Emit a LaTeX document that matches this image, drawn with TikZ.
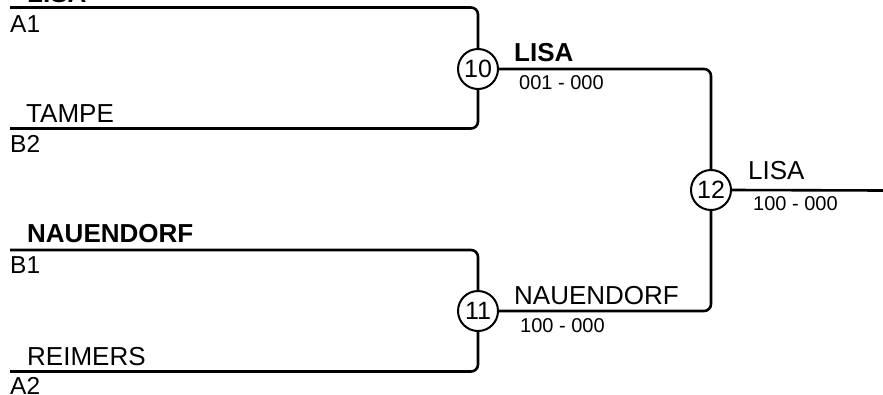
\documentclass[tikz,border=0pt]{standalone}
\usepackage{fontspec}
\setmainfont{Liberation Sans}
\begin{document}
\begin{tikzpicture}[x=1pt,y=-1pt,
  line/.style={line width=2.6pt,rounded corners=7pt},
  game/.style={circle,draw,line width=2pt,minimum size=40pt,inner sep=0pt,font=\fontsize{25}{25}\selectfont},
  player/.style={anchor=base west,inner sep=0pt,font=\fontsize{26}{26}\selectfont},
  winner/.style={player,font=\fontsize{26}{26}\selectfont\bfseries},
  seed/.style={anchor=base west,inner sep=0pt,font=\fontsize{24.5}{24.5}\selectfont},
  score/.style={anchor=base west,inner sep=0pt,font=\fontsize{20}{20}\selectfont}]
\useasboundingbox (0,0) rectangle (883,394);
% games
\node[game] (c10) at (478,69) {10};
\node[game] (c11) at (478,311) {11};
\node[game] (c12) at (711,190) {12};
% free ends
\coordinate (s1) at (10,7.5);
\coordinate (s2) at (10,128.5);
\coordinate (s3) at (10,250);
\coordinate (s4) at (10,371.5);
\coordinate (out) at (884,190.5);
% connectors
\draw[line] (s1) -| (c10);
\draw[line] (s2) -| (c10);
\draw[line] (s3) -| (c11);
\draw[line] (s4) -| (c11);
\draw[line] (c10) -| (c12);
\draw[line] (c11) -| (c12);
\draw[line] (c12.east) -- (out);
% labels
\node[winner] (n1) at (27,2) {LISA};
\node[seed] (a1) at (10,32) {A1};
\node[player] (n2) at (26,122) {TAMPE};
\node[seed] (b2) at (10,152.5) {B2};
\node[winner] (n3) at (27,242) {NAUENDORF};
\node[seed] (b1) at (10,273) {B1};
\node[player] (n4) at (27,365) {REIMERS};
\node[seed] (a2) at (10,394) {A2};
\node[winner] (w10) at (514,61) {LISA};
\node[score] (r10) at (519,89) {001 - 000};
\node[player] (w11) at (514,304) {NAUENDORF};
\node[score] (r11) at (520,332) {100 - 000};
\node[player] (w12) at (748,179) {LISA};
\node[score] (r12) at (753,210) {100 - 000};
\end{tikzpicture}
\end{document}
